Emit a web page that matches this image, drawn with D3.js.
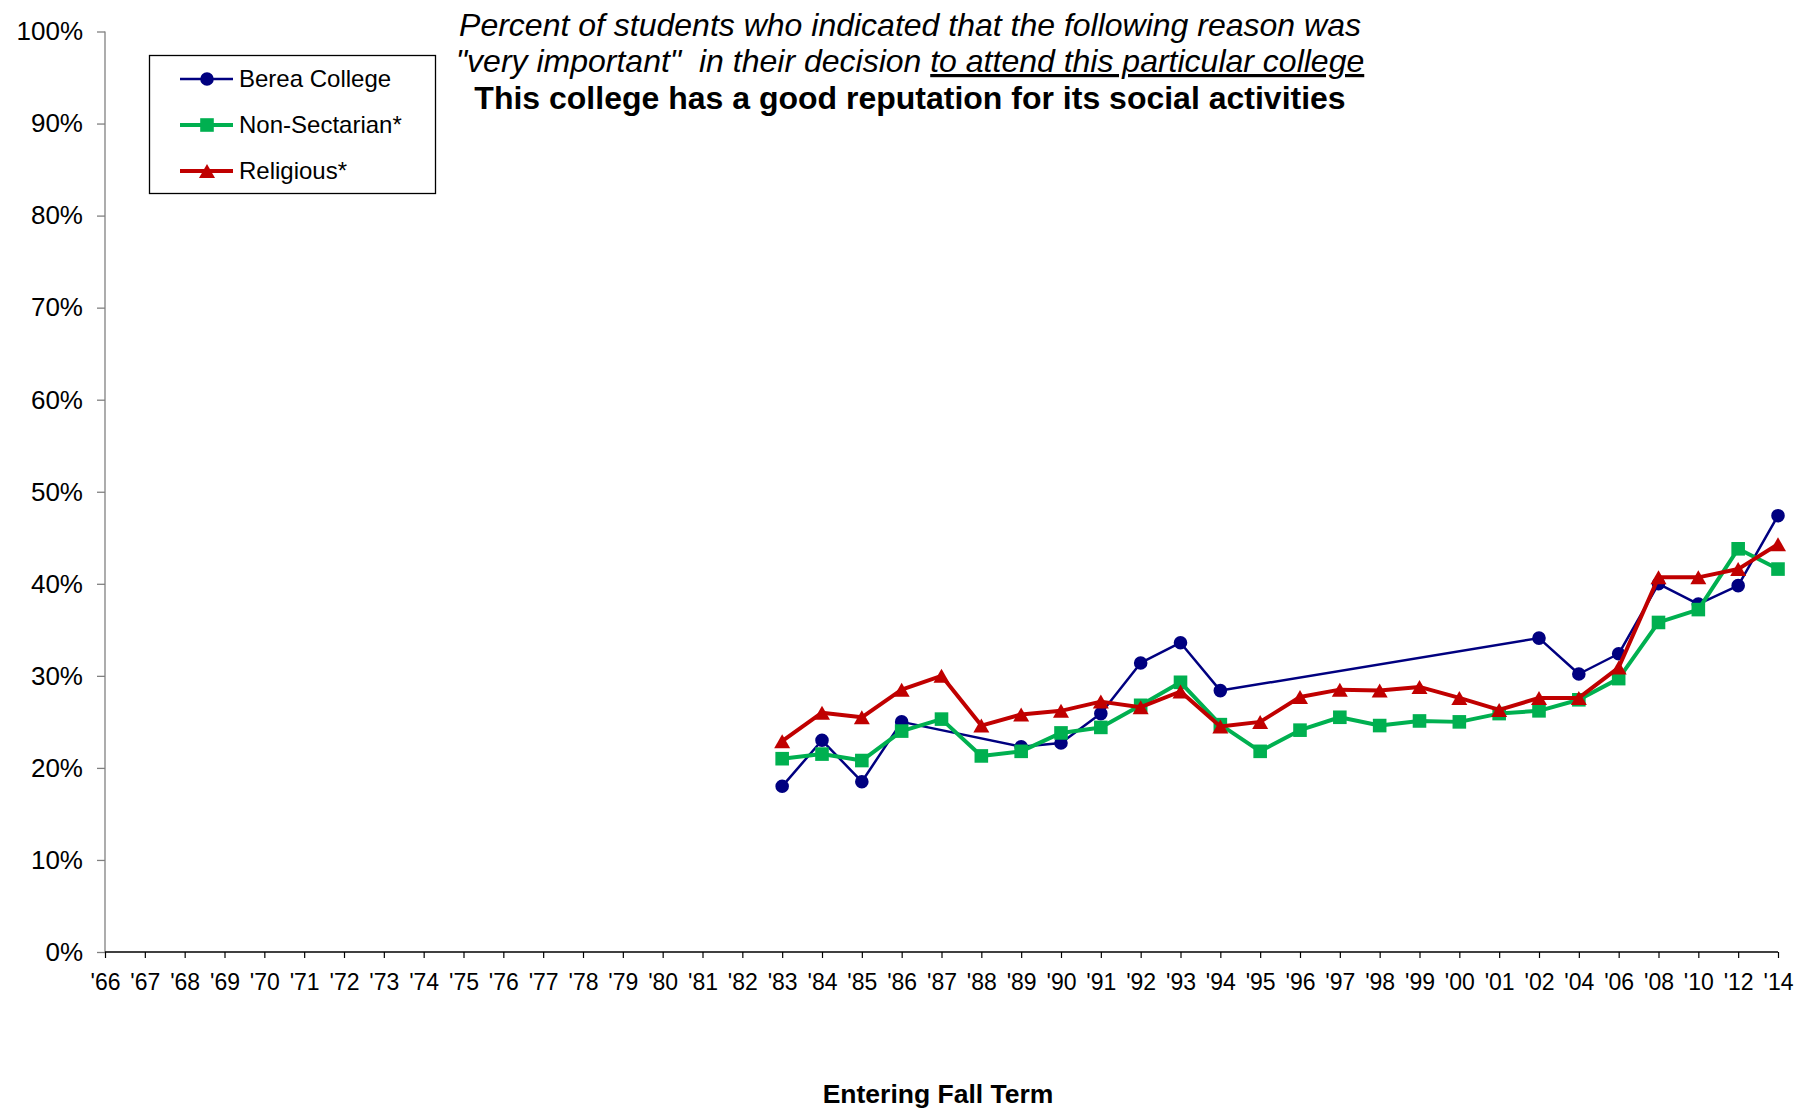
<!DOCTYPE html>
<html>
<head>
<meta charset="utf-8">
<script src="https://cdn.jsdelivr.net/npm/d3@7"></script>
<style>
  html, body { margin: 0; padding: 0; background: #fff; }
  svg { display: block; font-family: Arial, "Liberation Sans", sans-serif; }
</style>
</head>
<body>
<svg id="chart" width="1796" height="1108"></svg>
<script>
// ---------- data ----------
const categories = ["'66","'67","'68","'69","'70","'71","'72","'73","'74","'75","'76","'77","'78","'79","'80","'81","'82","'83","'84","'85","'86","'87","'88","'89","'90","'91","'92","'93","'94","'95","'96","'97","'98","'99","'00","'01","'02","'04","'06","'08","'10","'12","'14"];

// values for '83 .. '14 (null = no data)
const dataYears = ["'83","'84","'85","'86","'87","'88","'89","'90","'91","'92","'93","'94","'95","'96","'97","'98","'99","'00","'01","'02","'04","'06","'08","'10","'12","'14"];
const bereaValues = [18.0, 23.0, 18.5, 25.0, null, null, 22.3, 22.7, 25.9, 31.4, 33.6, 28.4, null, null, null, null, null, null, null, 34.1, 30.2, 32.4, 40.0, 37.8, 39.8, 47.4];
const nonSectarianValues = [21.0, 21.5, 20.8, 24.0, 25.3, 21.3, 21.8, 23.8, 24.4, 26.8, 29.3, 24.7, 21.8, 24.1, 25.5, 24.6, 25.1, 25.0, 25.9, 26.2, 27.4, 29.7, 35.8, 37.2, 43.8, 41.6];
const religiousValues = [22.9, 26.0, 25.5, 28.5, 30.0, 24.6, 25.8, 26.2, 27.2, 26.6, 28.3, 24.5, 25.0, 27.7, 28.5, 28.4, 28.8, 27.6, 26.3, 27.6, 27.6, 30.9, 40.7, 40.7, 41.6, 44.3];

const seriesNames = ["Berea College", "Non-Sectarian*", "Religious*"];
const yTicks = [0, 10, 20, 30, 40, 50, 60, 70, 80, 90, 100];

const titleLine1 = "Percent of students who indicated that the following reason was";
const titleLine2a = "\"very important\"  in their decision ";
const titleLine2b = "to attend this particular college";
const titleLine3 = "This college has a good reputation for its social activities";
const xAxisTitle = "Entering Fall Term";

// ---------- setup ----------
const svg = d3.select("#chart");
const x = d3.scalePoint().domain(categories).range([105, 1778]);
const y = d3.scaleLinear().domain([0, 100]).range([952, 31.5]);

const series = [
  { name: seriesNames[0], values: bereaValues, color: "#000080", width: 2.5, shape: "circle" },
  { name: seriesNames[1], values: nonSectarianValues, color: "#00B050", width: 4, shape: "square" },
  { name: seriesNames[2], values: religiousValues, color: "#C00000", width: 4, shape: "triangle" }
];

function markerPath(shape) {
  if (shape === "circle") return d3.symbol().type(d3.symbolCircle).size(Math.PI * 6.8 * 6.8)();
  if (shape === "square") { const h = 6.8; return `M${-h},${-h}H${h}V${h}H${-h}Z`; }
  const w = 8, h = 7; return `M0,${-h}L${w},${h}L${-w},${h}Z`;
}

// ---------- y axis ----------
const yAxis = svg.append("g").attr("transform", "translate(105,0)")
  .call(d3.axisLeft(y).tickValues(yTicks).tickSize(8).tickPadding(14).tickFormat(d => d + "%"));
yAxis.select(".domain").attr("stroke", "#808080").attr("stroke-width", 1.3).attr("d", `M0,${y(100)}V${y(0)}`);
yAxis.selectAll(".tick line").attr("stroke", "#808080").attr("stroke-width", 1.3);
yAxis.selectAll(".tick text").attr("font-size", 26).attr("fill", "#000").attr("font-family", "Arial, 'Liberation Sans', sans-serif");

// ---------- x axis ----------
const xAxis = svg.append("g").attr("transform", `translate(0,${y(0)})`)
  .call(d3.axisBottom(x).tickSize(6).tickPadding(16));
xAxis.select(".domain").attr("stroke", "#000").attr("stroke-width", 1.5).attr("d", `M${x(categories[0])},0H${x(categories[categories.length-1])}`);
xAxis.selectAll(".tick line").attr("stroke", "#000").attr("stroke-width", 1.2);
xAxis.selectAll(".tick text").attr("font-size", 23).attr("fill", "#000").attr("font-family", "Arial, 'Liberation Sans', sans-serif");

// ---------- series ----------
series.forEach(s => {
  const pts = dataYears.map((yr, i) => ({ yr, v: s.values[i] })).filter(d => d.v !== null);
  const line = d3.line().x(d => x(d.yr)).y(d => y(d.v));
  const g = svg.append("g");
  g.append("path").datum(pts).attr("d", line).attr("fill", "none")
    .attr("stroke", s.color).attr("stroke-width", s.width).attr("stroke-linejoin", "round");
  g.selectAll("path.m").data(pts).enter().append("path").attr("class", "m")
    .attr("d", markerPath(s.shape))
    .attr("transform", d => `translate(${x(d.yr)},${y(d.v)})`)
    .attr("fill", s.color);
});

// ---------- legend ----------
const leg = svg.append("g");
leg.append("rect").attr("x", 149.5).attr("y", 55.5).attr("width", 286).attr("height", 138)
  .attr("fill", "#fff").attr("stroke", "#000").attr("stroke-width", 1.3);
const legY = [79, 125, 171];
series.forEach((s, i) => {
  leg.append("line").attr("x1", 180).attr("x2", 233).attr("y1", legY[i]).attr("y2", legY[i])
    .attr("stroke", s.color).attr("stroke-width", s.width);
  leg.append("path").attr("d", markerPath(s.shape)).attr("transform", `translate(207,${legY[i]})`).attr("fill", s.color);
  leg.append("text").attr("x", 239).attr("y", legY[i]).attr("dy", "0.35em")
    .attr("font-size", 24).attr("fill", "#000").text(s.name);
});

// ---------- title ----------
const tcx = 910;
svg.append("text").attr("x", tcx).attr("y", 36).attr("text-anchor", "middle")
  .attr("font-size", 32).attr("font-style", "italic").text(titleLine1);
const t2 = svg.append("text").attr("x", tcx).attr("y", 72).attr("text-anchor", "middle")
  .attr("font-size", 32).attr("font-style", "italic").style("white-space", "pre");
t2.append("tspan").text(titleLine2a);
t2.append("tspan").style("text-decoration", "underline").text(titleLine2b);
svg.append("text").attr("x", tcx).attr("y", 109).attr("text-anchor", "middle")
  .attr("font-size", 32).attr("font-weight", "bold").text(titleLine3);

// ---------- x axis title ----------
svg.append("text").attr("x", 938).attr("y", 1103).attr("text-anchor", "middle")
  .attr("font-size", 26.5).attr("font-weight", "bold").text(xAxisTitle);
</script>
</body>
</html>
